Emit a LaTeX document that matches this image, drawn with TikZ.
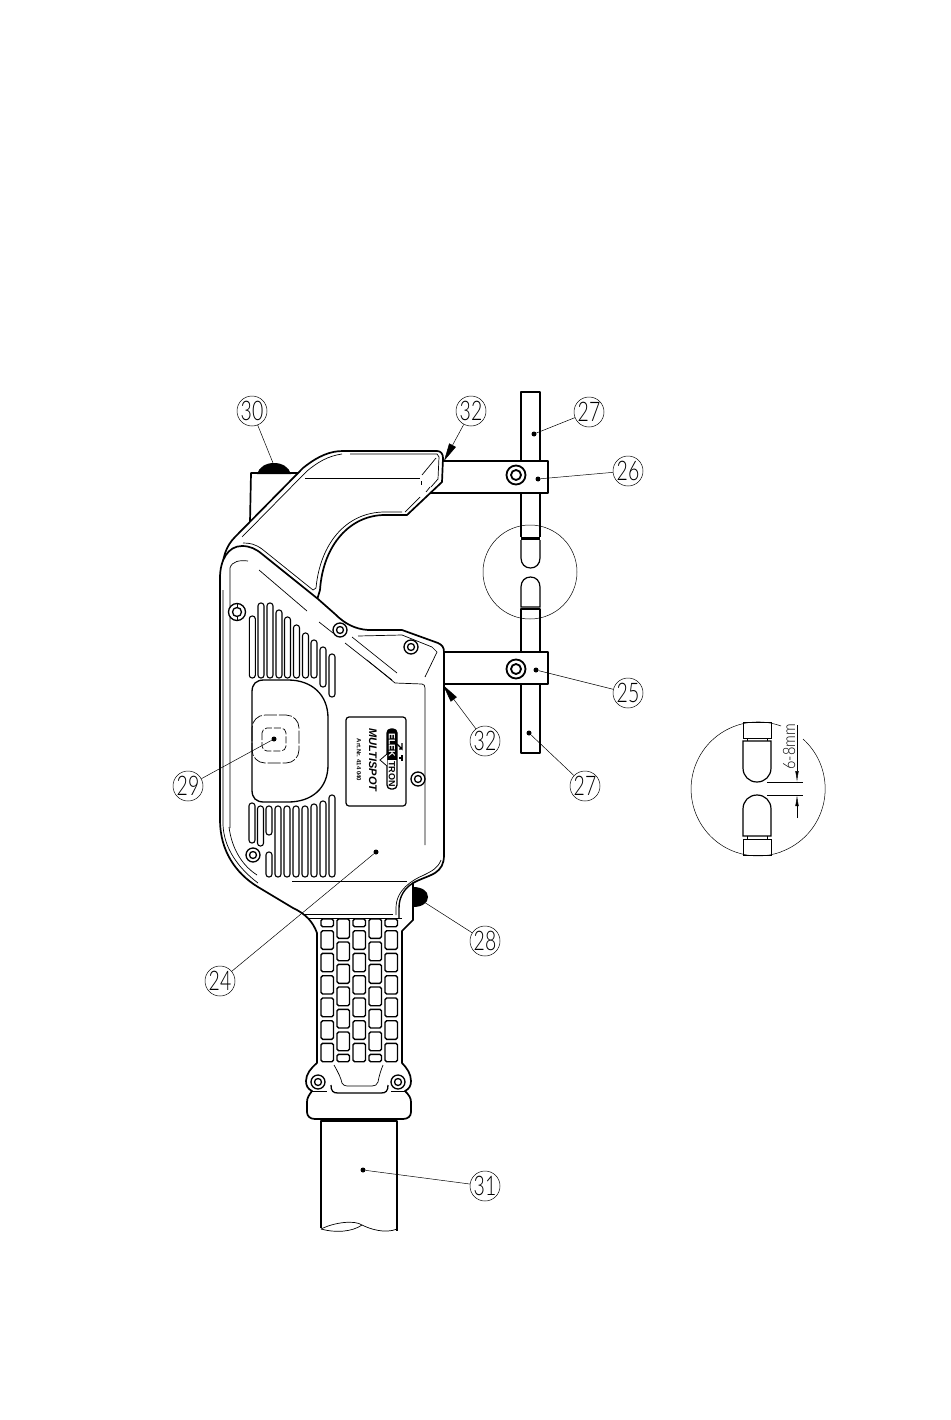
\documentclass[tikz,border=0pt]{standalone}
\usepackage{fontspec}
\usetikzlibrary{arrows.meta}
\newfontfamily\calloutfont[UprightFont=* Light]{Lato}
\newfontfamily\platefont{Liberation Sans}
\newcommand\narrowdigits[1]{\scalebox{.72}[1]{#1}}
\begin{document}
\begin{tikzpicture}[x=1pt, y=-1pt]
    \tikzstyle{outline} = [line width=1.7pt, line join=round, fill=white]
    \tikzstyle{detail} = [line width=.7pt]
    \tikzstyle{callout} = [circle, draw, line width=.5pt, minimum size=30pt, inner sep=0pt, font=\calloutfont\fontsize{27}{27}\selectfont]
    \tikzstyle{leader} = [line width=.5pt]
    \tikzstyle{dot} = [circle, fill=black, minimum size=5pt, inner sep=0pt]
    \tikzstyle{slot} = [line width=1.1pt, rounded corners=2.8pt, fill=white]
    \tikzstyle{cell} = [line width=1.4pt, rounded corners=1.6pt]
    \useasboundingbox (0,0) rectangle (950,1420);
    % rear box and top button
    \draw[outline] (298,473) -- (251,473) -- (250,522);
    \fill (257,474) .. controls (259,467) and (266,463) .. (274,463) .. controls (282,463) and (289,467) .. (291,474) -- cycle;
    % electrodes
    \draw[outline] (521,537) -- (521,392) -- (540,392) -- (540,537);
    \draw[line width=2.6pt] (521,538.5) -- (540,538.5);
    \draw[line width=1.2pt] (521,540) -- (521,558) .. controls (521,564) and (525,568) .. (530.5,568) .. controls (536,568) and (540,564) .. (540,558) -- (540,540);
    \draw[line width=1.2pt] (521,607) -- (521,587) .. controls (521,581) and (525,577) .. (530.5,577) .. controls (536,577) and (540,581) .. (540,587) -- (540,607) -- cycle;
    \draw[outline] (521,609) rectangle (540,753);
    % arms
    \draw[outline] (430,461) rectangle (548,493);
    \draw[outline] (430,652) rectangle (548,684);
    \foreach \sx/\sy in {516/475, 516/669} {
        \draw[line width=1.8pt] (\sx,\sy) circle (9.5);
        \draw[line width=1.8pt] (\sx,\sy) circle (5);
    }
    % head
    \draw[outline] (222,575) .. controls (222,558) and (226,546) .. (235,537) -- (303,468) .. controls (318,456) and (330,451) .. (343,451) -- (437,451) .. controls (441,451) and (443,454) .. (443,458) -- (442,482) -- (407,515) -- (385,515) .. controls (350,515) and (323,545) .. (320,590) -- (317,600) -- (262,600) -- cycle;
    \draw[detail] (350,454) -- (437,454) -- (439,457) -- (438,479) -- (431,487);
    \draw[detail] (342,454) .. controls (328,456) and (318,462) .. (307,471) -- (242,537);
    \draw[detail] (305,478) -- (420,478);
    \draw[detail] (422,475) -- (436,458);
    \draw[detail] (421,481) -- (421,485);
    \draw[detail] (426,492) -- (430,487);
    \draw[detail] (420,497) -- (405,512);
    \draw[detail] (402,512) -- (385,512) .. controls (345,512) and (320,545) .. (316,588) -- (313,590) -- (262,549) .. controls (255,544) and (250,543) .. (243,543);
    % body with grip and collar
    \draw[outline] (220,578) .. controls (220,560) and (228,546) .. (242,546) .. controls (250,546) and (256,549) .. (262,554) -- (318,599) -- (335,614) .. controls (345,624) and (355,629) .. (368,630) -- (402,630) -- (438,643) .. controls (442,645) and (444,647) .. (444,652) -- (444,855) .. controls (444,864) and (441,869) .. (435,873) .. controls (428,877) and (420,879) .. (413,883) -- (413,920) -- (402,931) -- (402,1063) .. controls (407,1068) and (411,1074) .. (411,1081) .. controls (411,1086) and (409,1089) .. (405,1091) .. controls (409,1095) and (411,1098) .. (411,1102) -- (411,1112) .. controls (411,1116) and (408,1119) .. (403,1119) -- (315,1119) .. controls (310,1119) and (307,1116) .. (307,1112) -- (307,1102) .. controls (307,1098) and (309,1095) .. (312,1091) .. controls (308,1089) and (306,1086) .. (306,1081) .. controls (306,1074) and (311,1068) .. (317,1063) -- (317,933) .. controls (313,922) and (306,914) .. (293,908) -- (258,887) .. controls (235,873) and (220,850) .. (220,820) -- cycle;
    \draw[line width=1.4pt] (413,883) .. controls (405,888) and (399,896) .. (399,908) -- (399,918);
    \draw[detail] (223,590) -- (223,825) .. controls (224,848) and (238,868) .. (258,883);
    \draw[detail] (230,828) -- (230,568) .. controls (232,561) and (240,560) .. (248,561);
    \draw[detail] (229,827) .. controls (232,850) and (243,866) .. (257,875);
    \draw[detail] (259,570) -- (307,611);
    \draw[detail] (319,622) -- (333,633);
    \draw[detail] (345,643) -- (392,680);
    \draw[detail] (352,637) -- (397,673);
    \draw[detail] (367,660) -- (395,683) -- (422,684) .. controls (424,684) and (425,686) .. (425,688) -- (425,845);
    \draw[detail] (358,636) -- (402,635) -- (432,647) -- (437,652) -- (425,677);
    \draw[detail] (292,881) -- (407,881);
    \draw[detail] (441,860) .. controls (438,868) and (432,871) .. (424,875) .. controls (412,880) and (396,890) .. (396,908) -- (396,915);
    \draw[detail] (305,914) -- (393,914);
    \draw[detail] (308,918) -- (402,918);
    % slots, upper and lower group
    \foreach \sx/\stop/\sbot in {252.3/616/678, 261/603/678, 270/603/678, 279/610/678, 287.5/617/678, 296.5/625/678, 305.5/633/678, 314/640/678, 323/647/687, 332/654/697} {
        \draw[slot] (\sx-3,\stop) rectangle (\sx+3,\sbot);
    }
    \foreach \sx/\stop/\sbot in {252/803/843, 260.5/806/846, 269/806/835, 269/852/877, 278/806/877, 287/806/877, 296/806/877, 305/806/877, 314/804/877, 323/801/877, 332/795/877} {
        \draw[slot] (\sx-3,\stop) rectangle (\sx+3,\sbot);
    }
    % window
    \draw[outline, line width=1.3pt] (252,692) .. controls (252,684) and (256,680) .. (264,680) -- (288,680) .. controls (312,680) and (328,695) .. (328,718) -- (328,765) .. controls (328,788) and (312,802) .. (288,802) -- (264,802) .. controls (256,802) and (252,798) .. (252,790) -- cycle;
    \draw[detail, dashed, dash pattern=on 13pt off 2pt, rounded corners=13pt] (252,715) rectangle (299,763);
    \draw[detail, dashed, dash pattern=on 7pt off 2pt, rounded corners=5pt] (262,728) rectangle (286,751);
    % screws
    \foreach \sx/\sy/\sr in {340/630/7, 411/647/7, 418/779/7, 253/855/7, 318/1082/7, 398/1082/7} {
        \draw[line width=1.3pt, fill=white] (\sx,\sy) circle (\sr);
        \draw[line width=1.3pt] (\sx,\sy) circle (\sr/2);
    }
    \draw[line width=1.3pt, fill=white] (237,612) circle (8.5);
    \draw[line width=1.3pt] (237,612) circle (4.5);
    \draw[line width=1pt] (237,603.5) -- (237,608) (237,616) -- (237,620.5);
    % plate
    \draw[line width=1.2pt, rounded corners=3pt] (346,717) rectangle (406,806);
    \draw[line width=1.3pt, rounded corners=4pt] (387,729) rectangle (397,789);
    \fill[rounded corners=4pt] (387,729) rectangle (397,745);
    \fill (387,736) rectangle (397,760);
    \node[rotate=-90, inner sep=0pt, text=white, font=\platefont\bfseries\fontsize{9}{9}\selectfont] (logoa) at (392,745) {ELEK};
    \node[rotate=-90, inner sep=0pt, font=\platefont\bfseries\fontsize{9}{9}\selectfont] (logob) at (392,774) {TRON};
    \draw[line width=.8pt, fill=white] (387,754) -- (380,760) -- (387,766);
    \draw[line width=1.2pt] (397,744) -- (402,749) -- (402,743) (402,749) -- (399,749);
    \draw[line width=1.2pt] (402,755) -- (402,761) (402,758) -- (399,758);
    \node[rotate=-90, inner sep=0pt, font=\platefont\bfseries\itshape\fontsize{11}{11}\selectfont] (brand) at (373,760) {MULTISPOT};
    \node[rotate=-90, inner sep=0pt, font=\platefont\bfseries\fontsize{6}{6}\selectfont] (artno) at (359,760) {Art.Nr. 414 040};
    % grip blocks
    \foreach \cx in {321, 353, 385} {
        \foreach \ra/\rb in {919/926.7, 930.7/949.3, 953.3/971.7, 975.7/994, 998/1016.7, 1020.7/1039.3, 1043.3/1061.7} {
            \draw[cell] (\cx,\ra) rectangle (\cx+12.5,\rb);
        }
    }
    \foreach \cx in {337, 369} {
        \foreach \ra/\rb in {919/938.3, 942/960.7, 964.3/983.3, 987/1005.7, 1009.3/1028, 1032/1050.7, 1054.3/1061.7} {
            \draw[cell] (\cx,\ra) rectangle (\cx+12.5,\rb);
        }
    }
    % collar details
    \draw[line width=1.3pt] (331,1085) .. controls (331,1091) and (333,1093) .. (338,1093) -- (381,1093) .. controls (386,1093) and (388,1091) .. (388,1085);
    \draw[detail] (334,1065) .. controls (338,1072) and (341,1078) .. (342,1083) .. controls (343,1085) and (345,1086) .. (347,1086) -- (372,1086) .. controls (375,1086) and (377,1085) .. (378,1082) .. controls (379,1076) and (381,1070) .. (383,1065);
    \draw[detail] (312,1091) -- (327,1091) (391,1091) -- (405,1091);
    % cable
    \draw[outline] (321,1228) -- (321,1121) -- (397,1121) -- (397,1231);
    \draw[line width=1pt] (323,1120) -- (395,1120);
    \draw[detail] (321,1229) .. controls (335,1222) and (355,1220) .. (362,1225) .. controls (370,1229) and (385,1234) .. (397,1229);
    \draw[detail] (321,1229) .. controls (335,1233) and (352,1232) .. (362,1225);
    % rear knob
    \fill (413,887) .. controls (422,887) and (428,891) .. (428,897) .. controls (428,903) and (422,907) .. (413,907) -- cycle;
    % inspection circle
    \draw[leader] (530,572) circle (47);
    % spacing detail
    \draw[leader] (781,726) arc[start angle=-70, end angle=-290, radius=67];
    \draw[leader] (803,739) arc[start angle=-48, end angle=70, radius=67];
    \draw[line width=1pt] (743,722) rectangle (771,738);
    \draw[line width=.8pt] (747,738) -- (747,741) (767,738) -- (767,741);
    \draw[line width=1.2pt] (771,741) -- (743,741) -- (743,768) .. controls (743,776) and (749,782) .. (757,782) .. controls (765,782) and (771,776) .. (771,768) -- cycle;
    \draw[line width=1.2pt] (771,836) -- (743,836) -- (743,809) .. controls (743,801) and (749,795) .. (757,795) .. controls (765,795) and (771,801) .. (771,809) -- cycle;
    \draw[line width=.8pt] (747,836) -- (747,839) (767,836) -- (767,839);
    \draw[line width=1pt] (743,839) rectangle (771,855);
    \draw[leader] (767,782) -- (803,782);
    \draw[leader] (767,795) -- (803,795);
    \coordinate (gapa) at (797,782);
    \coordinate (gapb) at (797,795);
    \coordinate (gapc) at (797,725);
    \coordinate (gapd) at (797,818);
    \draw[leader, -{Latex[length=11pt, width=3.5pt]}] (gapc) -- (gapa);
    \draw[leader, -{Latex[length=11pt, width=3.5pt]}] (gapd) -- (gapb);
    \node[rotate=90, inner sep=0pt, font=\calloutfont\fontsize{17}{17}\selectfont] (gaplabel) at (789,747) {\scalebox{.85}[1]{6-8mm}};
    % callouts
    \node[callout] (c30) at (252,411) {\narrowdigits{30}};
    \node[callout] (c32a) at (471,411) {\narrowdigits{32}};
    \node[callout] (c27a) at (589,412) {\narrowdigits{27}};
    \node[callout] (c26) at (628,471) {\narrowdigits{26}};
    \node[callout] (c25) at (628,693) {\narrowdigits{25}};
    \node[callout] (c32b) at (485,741) {\narrowdigits{32}};
    \node[callout] (c27b) at (585,786) {\narrowdigits{27}};
    \node[callout] (c29) at (188,786) {\narrowdigits{29}};
    \node[callout] (c28) at (485,941) {\narrowdigits{28}};
    \node[callout] (c24) at (220,981) {\narrowdigits{24}};
    \node[callout] (c31) at (485,1186) {\narrowdigits{31}};
    \node[dot] (d27a) at (534,434) {};
    \node[dot] (d26) at (538,479) {};
    \node[dot] (d25) at (536,670) {};
    \node[dot] (d27b) at (529,733) {};
    \node[dot] (d29) at (274,739) {};
    \node[dot] (d24) at (376,852) {};
    \node[dot] (d31) at (363,1170) {};
    \coordinate (t30) at (273,463);
    \coordinate (t28) at (424,902);
    \coordinate (t32a) at (444,461);
    \coordinate (t32b) at (443,685);
    \draw[leader] (c30) -- (t30);
    \draw[leader] (c27a) -- (d27a);
    \draw[leader] (c26) -- (d26);
    \draw[leader] (c25) -- (d25);
    \draw[leader] (c27b) -- (d27b);
    \draw[leader] (c29) -- (d29);
    \draw[leader] (c24) -- (d24);
    \draw[leader] (c31) -- (d31);
    \draw[leader] (c28) -- (t28);
    \draw[leader, -{Triangle[length=18pt, width=7.5pt]}] (c32a) -- (t32a);
    \draw[leader, -{Triangle[length=18pt, width=7.5pt]}] (c32b) -- (t32b);
\end{tikzpicture}
\end{document}
